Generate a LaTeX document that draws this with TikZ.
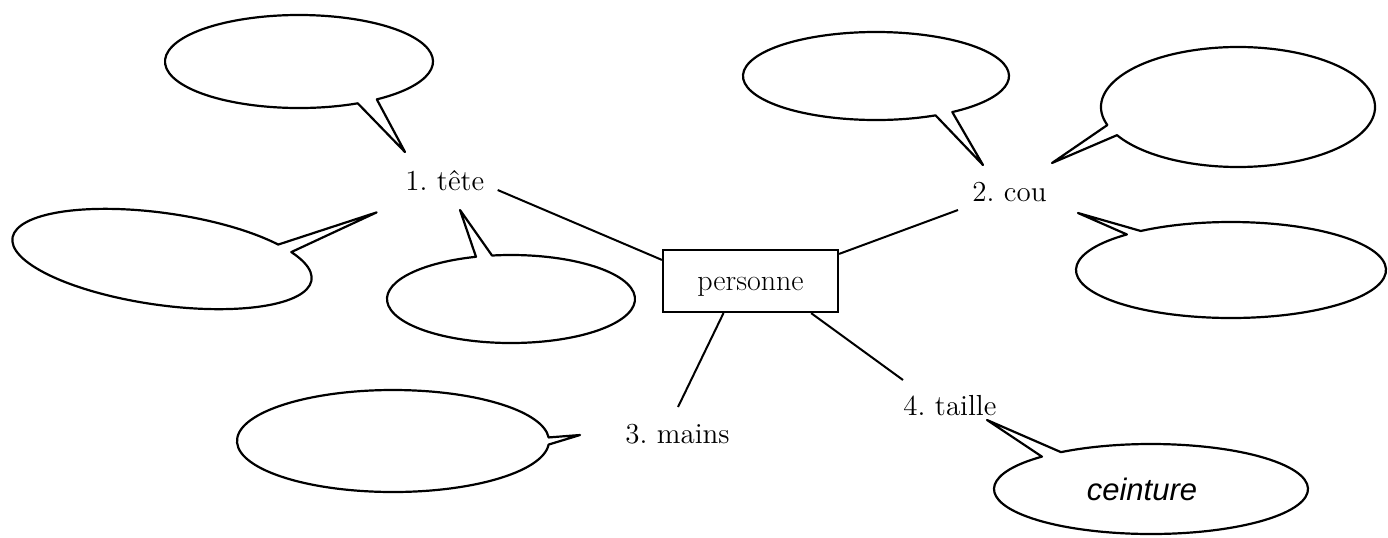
\documentclass[tikz,border=0pt]{standalone}
\usepackage{fontspec}
\newfontfamily\ceintfont{Liberation Sans}
\usetikzlibrary{calc}
\begin{document}
\frenchspacing
\begin{tikzpicture}[x=0.5pt,y=-0.5pt,
  bubble/.style={draw=black, line width=1.1pt, line join=round},
  conn/.style={draw=black, line width=1.0pt},
  lbl/.style={inner sep=0pt, anchor=base west, font=\frenchspacing\fontsize{14.5}{17}\selectfont},
  pbox/.style={draw=black, line width=1.1pt, minimum width=87.5pt, minimum height=31pt,
    inner sep=0pt, text height=9pt, text depth=0pt, font=\fontsize{15}{18}\selectfont},
  ctext/.style={inner sep=0pt, anchor=base, font=\ceintfont\itshape\fontsize{15.5}{18}\selectfont}]
\useasboundingbox (0,0) rectangle (1388,537);

% nodes
\node[pbox] (p) at (750.5,281) {personne};
\node[lbl] (tete) at (405,190) {1. tête};
\node[lbl] (cou) at (972,201) {2. cou};
\node[lbl] (mains) at (625,443) {3. mains};
\node[lbl] (taille) at (903,415) {4. taille};

% connectors
\draw[conn] ($(tete.base east)+(13,0)$) -- ($(p.north west)+(0,11)$);
\draw[conn] ($(cou.base west)+(-14,9)$) -- ($(p.north east)+(0,5)$);
\draw[conn] ($(p.south)+(-27,0)$) -- ($(mains.base west)+(53,-36)$);
\draw[conn] ($(p.south east)+(-28,0)$) -- ($(taille.base west)+(0,-35)$);

% speech bubbles
\draw[bubble] (299,61.5) ++(64:134 and 46.5) arc[start angle=64, end angle=414.5, x radius=134, y radius=46.5] -- (405,152) -- cycle;
\draw[bubble, shift={(162,259)}, rotate=-8] (0,0) ++(-32.7:151 and 46) arc[start angle=-32.7, end angle=318.5, x radius=151, y radius=46] -- (206,-76) -- cycle;
\draw[bubble] (511,299) ++(261.2:124 and 44) arc[start angle=261.2, end angle=613.6, x radius=124, y radius=44] -- (460,210) -- cycle;
\draw[bubble] (876,76) ++(63.4:133 and 44) arc[start angle=63.4, end angle=415, x radius=133, y radius=44] -- (983,165) -- cycle;
\draw[bubble] (1238,107) ++(162.5:137 and 60) arc[start angle=162.5, end angle=512, x radius=137, y radius=60] -- (1052,163) -- cycle;
\draw[bubble] (1231,270) ++(234.4:155 and 48) arc[start angle=234.4, end angle=587.8, x radius=155, y radius=48] -- (1078,213) -- cycle;
\draw[bubble] (393,441) ++(4:156 and 51) arc[start angle=4, end angle=356, x radius=156, y radius=51] -- (580,435) -- cycle;
\draw[bubble] (1151,489) ++(235:157 and 45) arc[start angle=235, end angle=586, x radius=157, y radius=45] -- (987,420) -- cycle;

\node[ctext] (ceint) at (1142,500) {ceinture};
\end{tikzpicture}
\end{document}
